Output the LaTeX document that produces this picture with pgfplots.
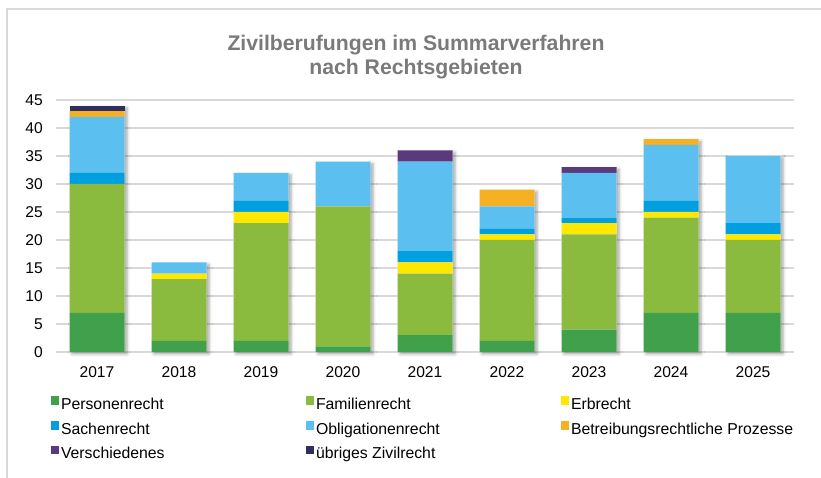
\documentclass[border=0pt]{standalone}
\usepackage{fontspec}
\setmainfont{Liberation Sans}
\usepackage{pgfplots}
\pgfplotsset{compat=1.18}
\usetikzlibrary{shadows.blur}
\definecolor{cP}{HTML}{40A04C}
\definecolor{cF}{HTML}{8ABB3F}
\definecolor{cE}{HTML}{FFE800}
\definecolor{cS}{HTML}{00A0E0}
\definecolor{cO}{HTML}{5BC0F0}
\definecolor{cB}{HTML}{F5B024}
\definecolor{cV}{HTML}{5B3A7C}
\definecolor{cU}{HTML}{2F2E5E}
\definecolor{gridc}{HTML}{D9D9D9}
\definecolor{titlec}{HTML}{7A7A7A}
\pgfplotsset{
  myax/.style={
    at={(56pt,126pt)}, anchor=south west, scale only axis,
    width=738pt, height=252pt,
    xmin=-0.5, xmax=8.5, ymin=0, ymax=45,
    axis line style={draw=none}, major tick length=0pt,
    /pgf/number format/assume math mode=true,
  }
}
\begin{document}
\begin{tikzpicture}[x=1pt,y=1pt]
\useasboundingbox (0,0) rectangle (821,478);
\draw[color=gridc, line width=1.5pt] (7,0) -- (7,469) -- (821,469);
\node[align=center, font=\fontsize{21.2}{23.5}\selectfont\bfseries, text=titlec, inner sep=0pt] at (416,421) {Zivilberufungen im Summarverfahren\\nach Rechtsgebieten};

% background axis: grid, tick labels, shadows
\begin{axis}[myax,
  clip=false,
  ymajorgrids, grid style={color=gridc, line width=1.5pt},
  xtick={0,...,8},
  xticklabels={2017,2018,2019,2020,2021,2022,2023,2024,2025},
  ytick={0,5,...,45},
  tick label style={font=\fontsize{15.6}{18}\selectfont},
  yticklabel style={inner sep=0pt, xshift=-13pt},
  xticklabel style={inner sep=0pt, yshift=-14.5pt},
]
\addplot[ybar, bar width=55pt, fill=white, draw=none,
  blur shadow={shadow xshift=2.5pt, shadow yshift=-2pt, shadow blur radius=3pt, shadow opacity=35}]
  coordinates {(0,44) (1,16) (2,32) (3,34) (4,36) (5,29) (6,33) (7,38) (8,35)};
\end{axis}

% stacked bars
\begin{axis}[myax,
  ybar stacked, bar width=55pt,
  xtick=\empty, ytick=\empty,
  legend columns=3,
  legend cell align=left,
  legend style={at={(-8.7/738,-0.167)}, anchor=north west, draw=none, fill=none,
    font=\fontsize{15.8}{18}\selectfont,
    nodes={inner sep=0pt, text height=11pt, text depth=3.5pt},
    row sep=8.2pt,
    /tikz/every odd column/.append style={column sep=2pt},
    /tikz/every even column/.append style={column sep=0pt}},
  legend image code/.code={\fill[#1] (0pt,0.8pt) rectangle (8.5pt,9.3pt);},
  every axis plot/.append style={draw=none},
]
\addplot[fill=cP] coordinates {(0,7) (1,2) (2,2) (3,1) (4,3) (5,2) (6,4) (7,7) (8,7)};
\addplot[fill=cF] coordinates {(0,23) (1,11) (2,21) (3,25) (4,11) (5,18) (6,17) (7,17) (8,13)};
\addplot[fill=cE] coordinates {(0,0) (1,1) (2,2) (3,0) (4,2) (5,1) (6,2) (7,1) (8,1)};
\addplot[fill=cS] coordinates {(0,2) (1,0) (2,2) (3,0) (4,2) (5,1) (6,1) (7,2) (8,2)};
\addplot[fill=cO] coordinates {(0,10) (1,2) (2,5) (3,8) (4,16) (5,4) (6,8) (7,10) (8,12)};
\addplot[fill=cB] coordinates {(0,1) (1,0) (2,0) (3,0) (4,0) (5,3) (6,0) (7,1) (8,0)};
\addplot[fill=cV] coordinates {(0,0) (1,0) (2,0) (3,0) (4,2) (5,0) (6,1) (7,0) (8,0)};
\addplot[fill=cU] coordinates {(0,1) (1,0) (2,0) (3,0) (4,0) (5,0) (6,0) (7,0) (8,0)};
\legend{\makebox[244.5pt][l]{Personenrecht},\makebox[244.5pt][l]{Familienrecht},Erbrecht,
  \makebox[244.5pt][l]{Sachenrecht},\makebox[244.5pt][l]{Obligationenrecht},Betreibungsrechtliche Prozesse,
  \makebox[244.5pt][l]{Verschiedenes},\makebox[244.5pt][l]{übriges Zivilrecht}}
\end{axis}
\end{tikzpicture}
\end{document}
